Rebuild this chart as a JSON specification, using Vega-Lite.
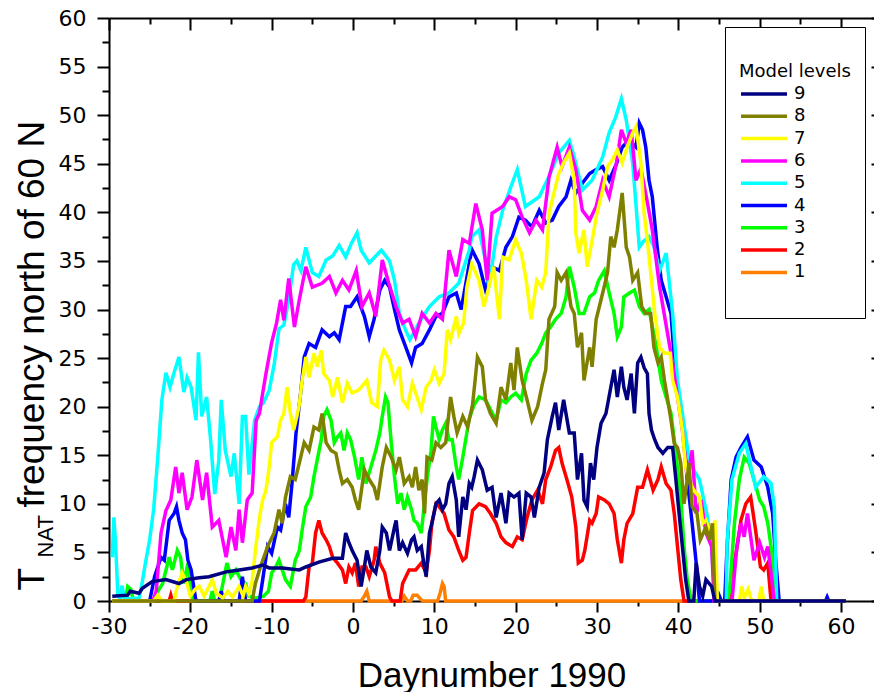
{
"$schema": "https://vega.github.io/schema/vega-lite/v6.json",
"width": 765, "height": 583,
"autosize": {"type": "none"},
"padding": {"left": 109, "top": 18, "right": 0, "bottom": 91},
"background": "white",
"config": {"view": {"stroke": null}, "axis": {"grid": false, "domainColor": "black", "tickColor": "black", "labelColor": "black", "titleColor": "black", "domainWidth": 2, "tickWidth": 2}},
"data": {"values": [
{"l":"1","d":-29.6,"v":0},{"l":"1","d":1.0,"v":0},{"l":"1","d":1.4,"v":0.5},{"l":"1","d":1.7,"v":1.0},{"l":"1","d":2.0,"v":0},{"l":"1","d":6.0,"v":0},{"l":"1","d":6.3,"v":0.5},{"l":"1","d":6.7,"v":0},{"l":"1","d":7.1,"v":0},{"l":"1","d":7.4,"v":0.6},{"l":"1","d":7.9,"v":0.6},{"l":"1","d":8.3,"v":0.2},{"l":"1","d":8.6,"v":0},{"l":"1","d":10.4,"v":0},{"l":"1","d":10.7,"v":0.8},{"l":"1","d":11.0,"v":1.8},{"l":"1","d":11.2,"v":1.5},{"l":"1","d":11.4,"v":0},{"l":"1","d":60.6,"v":0},
{"l":"2","d":-29.6,"v":0},{"l":"2","d":-22.6,"v":0},{"l":"2","d":-22.4,"v":0.6},{"l":"2","d":-22.2,"v":0},{"l":"2","d":-6.1,"v":0},{"l":"2","d":-5.8,"v":0.4},{"l":"2","d":-5.4,"v":3.5},{"l":"2","d":-5.0,"v":3.9},{"l":"2","d":-4.6,"v":7.0},{"l":"2","d":-4.2,"v":8.3},{"l":"2","d":-3.8,"v":7.0},{"l":"2","d":-3.3,"v":6.3},{"l":"2","d":-2.9,"v":5.6},{"l":"2","d":-2.5,"v":4.5},{"l":"2","d":-1.9,"v":3.9},{"l":"2","d":-1.3,"v":3.2},{"l":"2","d":-0.9,"v":1.8},{"l":"2","d":-0.5,"v":3.5},{"l":"2","d":-0.1,"v":2.9},{"l":"2","d":0.3,"v":3.9},{"l":"2","d":0.7,"v":1.5},{"l":"2","d":1.1,"v":3.5},{"l":"2","d":1.6,"v":3.5},{"l":"2","d":2.0,"v":2.5},{"l":"2","d":2.6,"v":4.2},{"l":"2","d":2.8,"v":5.6},{"l":"2","d":3.3,"v":3.9},{"l":"2","d":3.9,"v":2.9},{"l":"2","d":4.5,"v":0.4},{"l":"2","d":4.8,"v":0},{"l":"2","d":5.8,"v":0},{"l":"2","d":6.1,"v":1.8},{"l":"2","d":6.5,"v":2.5},{"l":"2","d":6.9,"v":3.2},{"l":"2","d":7.7,"v":3.2},{"l":"2","d":8.4,"v":3.9},{"l":"2","d":9.0,"v":2.9},{"l":"2","d":9.4,"v":5.2},{"l":"2","d":9.7,"v":8.0},{"l":"2","d":10.2,"v":10.0},{"l":"2","d":10.6,"v":9.7},{"l":"2","d":11.2,"v":9.0},{"l":"2","d":11.8,"v":7.3},{"l":"2","d":12.4,"v":6.6},{"l":"2","d":13.0,"v":5.2},{"l":"2","d":13.5,"v":4.2},{"l":"2","d":13.9,"v":4.5},{"l":"2","d":14.3,"v":7.0},{"l":"2","d":14.7,"v":9.3},{"l":"2","d":15.5,"v":10.0},{"l":"2","d":16.3,"v":9.7},{"l":"2","d":16.9,"v":9.0},{"l":"2","d":17.6,"v":8.0},{"l":"2","d":18.2,"v":6.6},{"l":"2","d":18.8,"v":6.0},{"l":"2","d":19.6,"v":5.6},{"l":"2","d":20.2,"v":6.6},{"l":"2","d":20.8,"v":6.3},{"l":"2","d":21.4,"v":8.6},{"l":"2","d":22.0,"v":10.4},{"l":"2","d":22.7,"v":11.4},{"l":"2","d":23.3,"v":10.0},{"l":"2","d":23.7,"v":12.5},{"l":"2","d":24.3,"v":13.8},{"l":"2","d":24.9,"v":15.5},{"l":"2","d":25.3,"v":15.8},{"l":"2","d":25.7,"v":14.2},{"l":"2","d":26.3,"v":12.5},{"l":"2","d":26.9,"v":10.7},{"l":"2","d":27.4,"v":7.6},{"l":"2","d":27.7,"v":3.9},{"l":"2","d":28.2,"v":4.2},{"l":"2","d":28.5,"v":5.2},{"l":"2","d":29.1,"v":8.3},{"l":"2","d":29.4,"v":8.0},{"l":"2","d":29.9,"v":9.0},{"l":"2","d":30.2,"v":10.7},{"l":"2","d":30.9,"v":10.4},{"l":"2","d":31.5,"v":10.0},{"l":"2","d":32.1,"v":9.0},{"l":"2","d":32.5,"v":6.3},{"l":"2","d":33.0,"v":3.9},{"l":"2","d":33.3,"v":6.3},{"l":"2","d":33.7,"v":8.0},{"l":"2","d":34.4,"v":9.0},{"l":"2","d":35.0,"v":11.7},{"l":"2","d":35.6,"v":11.7},{"l":"2","d":36.2,"v":13.5},{"l":"2","d":36.9,"v":11.4},{"l":"2","d":37.5,"v":12.5},{"l":"2","d":37.9,"v":13.8},{"l":"2","d":38.5,"v":12.1},{"l":"2","d":39.1,"v":11.4},{"l":"2","d":39.5,"v":9.0},{"l":"2","d":39.9,"v":5.6},{"l":"2","d":40.3,"v":2.2},{"l":"2","d":40.7,"v":0},{"l":"2","d":46.2,"v":0},{"l":"2","d":46.5,"v":2.5},{"l":"2","d":47.1,"v":4.9},{"l":"2","d":47.7,"v":8.3},{"l":"2","d":48.3,"v":10.0},{"l":"2","d":48.9,"v":10.7},{"l":"2","d":49.5,"v":7.3},{"l":"2","d":50.1,"v":3.5},{"l":"2","d":50.5,"v":3.2},{"l":"2","d":51.0,"v":3.9},{"l":"2","d":51.4,"v":0},{"l":"2","d":60.6,"v":0},
{"l":"3","d":-29.6,"v":0},{"l":"3","d":-28.0,"v":0},{"l":"3","d":-27.7,"v":1.5},{"l":"3","d":-27.3,"v":1.2},{"l":"3","d":-27.0,"v":0},{"l":"3","d":-24.5,"v":0},{"l":"3","d":-24.0,"v":1.0},{"l":"3","d":-23.4,"v":1.8},{"l":"3","d":-22.6,"v":4.5},{"l":"3","d":-22.2,"v":3.2},{"l":"3","d":-21.6,"v":5.2},{"l":"3","d":-21.2,"v":4.5},{"l":"3","d":-20.8,"v":1.8},{"l":"3","d":-20.3,"v":3.9},{"l":"3","d":-19.9,"v":0.6},{"l":"3","d":-19.5,"v":0},{"l":"3","d":-17.6,"v":0},{"l":"3","d":-17.3,"v":1.0},{"l":"3","d":-17.0,"v":0},{"l":"3","d":-16.4,"v":0},{"l":"3","d":-16.0,"v":1.8},{"l":"3","d":-15.5,"v":3.9},{"l":"3","d":-15.0,"v":2.5},{"l":"3","d":-14.4,"v":3.2},{"l":"3","d":-13.8,"v":2.2},{"l":"3","d":-13.2,"v":1.8},{"l":"3","d":-12.8,"v":0.5},{"l":"3","d":-12.0,"v":0.3},{"l":"3","d":-11.0,"v":0.5},{"l":"3","d":-10.4,"v":1.0},{"l":"3","d":-10.0,"v":2.9},{"l":"3","d":-9.5,"v":3.5},{"l":"3","d":-9.1,"v":4.2},{"l":"3","d":-8.7,"v":3.2},{"l":"3","d":-8.3,"v":2.2},{"l":"3","d":-7.7,"v":1.5},{"l":"3","d":-7.1,"v":4.2},{"l":"3","d":-6.6,"v":5.2},{"l":"3","d":-6.2,"v":7.6},{"l":"3","d":-5.8,"v":9.7},{"l":"3","d":-5.2,"v":10.7},{"l":"3","d":-4.8,"v":12.8},{"l":"3","d":-4.4,"v":14.5},{"l":"3","d":-3.9,"v":16.6},{"l":"3","d":-3.6,"v":19.0},{"l":"3","d":-3.2,"v":19.7},{"l":"3","d":-2.7,"v":18.6},{"l":"3","d":-2.3,"v":16.3},{"l":"3","d":-1.9,"v":16.9},{"l":"3","d":-1.5,"v":17.3},{"l":"3","d":-1.1,"v":15.5},{"l":"3","d":-0.7,"v":17.3},{"l":"3","d":-0.3,"v":16.6},{"l":"3","d":0.2,"v":14.8},{"l":"3","d":0.7,"v":12.5},{"l":"3","d":1.1,"v":14.8},{"l":"3","d":1.6,"v":12.1},{"l":"3","d":2.2,"v":13.8},{"l":"3","d":2.8,"v":15.5},{"l":"3","d":3.3,"v":17.3},{"l":"3","d":3.6,"v":19.0},{"l":"3","d":4.0,"v":21.0},{"l":"3","d":4.3,"v":20.4},{"l":"3","d":4.7,"v":16.3},{"l":"3","d":5.1,"v":12.8},{"l":"3","d":5.5,"v":10.0},{"l":"3","d":5.9,"v":11.1},{"l":"3","d":6.3,"v":9.4},{"l":"3","d":6.7,"v":10.7},{"l":"3","d":7.2,"v":9.4},{"l":"3","d":7.5,"v":8.3},{"l":"3","d":7.9,"v":8.0},{"l":"3","d":8.4,"v":7.0},{"l":"3","d":8.7,"v":9.4},{"l":"3","d":9.1,"v":12.5},{"l":"3","d":9.6,"v":15.5},{"l":"3","d":9.9,"v":19.0},{"l":"3","d":10.2,"v":17.9},{"l":"3","d":10.6,"v":16.6},{"l":"3","d":11.0,"v":17.6},{"l":"3","d":11.4,"v":18.3},{"l":"3","d":11.8,"v":16.6},{"l":"3","d":12.2,"v":16.6},{"l":"3","d":12.7,"v":13.8},{"l":"3","d":13.0,"v":12.5},{"l":"3","d":13.5,"v":14.8},{"l":"3","d":13.9,"v":16.8},{"l":"3","d":14.3,"v":18.8},{"l":"3","d":14.9,"v":20.2},{"l":"3","d":15.5,"v":21.0},{"l":"3","d":16.3,"v":20.7},{"l":"3","d":16.9,"v":19.7},{"l":"3","d":17.6,"v":18.6},{"l":"3","d":18.2,"v":20.7},{"l":"3","d":18.8,"v":20.4},{"l":"3","d":19.4,"v":21.0},{"l":"3","d":20.0,"v":21.4},{"l":"3","d":20.7,"v":20.7},{"l":"3","d":21.3,"v":23.4},{"l":"3","d":21.9,"v":24.8},{"l":"3","d":22.6,"v":25.5},{"l":"3","d":23.2,"v":26.5},{"l":"3","d":23.7,"v":27.6},{"l":"3","d":24.3,"v":28.2},{"l":"3","d":24.9,"v":29.0},{"l":"3","d":25.6,"v":29.6},{"l":"3","d":26.2,"v":31.3},{"l":"3","d":26.6,"v":34.4},{"l":"3","d":27.2,"v":32.3},{"l":"3","d":27.8,"v":29.6},{"l":"3","d":28.4,"v":29.6},{"l":"3","d":29.1,"v":31.3},{"l":"3","d":29.7,"v":31.7},{"l":"3","d":30.2,"v":33.0},{"l":"3","d":30.9,"v":34.0},{"l":"3","d":31.5,"v":31.7},{"l":"3","d":32.1,"v":29.6},{"l":"3","d":32.5,"v":27.2},{"l":"3","d":33.0,"v":28.2},{"l":"3","d":33.3,"v":31.3},{"l":"3","d":34.0,"v":31.7},{"l":"3","d":34.6,"v":32.0},{"l":"3","d":35.2,"v":30.3},{"l":"3","d":35.8,"v":29.6},{"l":"3","d":36.4,"v":30.0},{"l":"3","d":37.3,"v":26.1},{"l":"3","d":37.9,"v":22.7},{"l":"3","d":38.5,"v":21.0},{"l":"3","d":39.1,"v":19.3},{"l":"3","d":39.7,"v":15.2},{"l":"3","d":40.3,"v":10.7},{"l":"3","d":40.7,"v":5.6},{"l":"3","d":41.1,"v":2.2},{"l":"3","d":41.6,"v":0},{"l":"3","d":46.0,"v":0},{"l":"3","d":46.3,"v":1.0},{"l":"3","d":46.9,"v":8.0},{"l":"3","d":47.5,"v":12.5},{"l":"3","d":48.1,"v":14.8},{"l":"3","d":48.7,"v":14.2},{"l":"3","d":49.3,"v":12.5},{"l":"3","d":50.0,"v":10.4},{"l":"3","d":50.5,"v":9.7},{"l":"3","d":51.0,"v":8.0},{"l":"3","d":51.4,"v":5.6},{"l":"3","d":51.8,"v":2.2},{"l":"3","d":52.0,"v":0},{"l":"3","d":60.6,"v":0},
{"l":"4","d":-29.6,"v":0},{"l":"4","d":-25.0,"v":0},{"l":"4","d":-24.4,"v":2.5},{"l":"4","d":-23.6,"v":4.5},{"l":"4","d":-23.2,"v":4.2},{"l":"4","d":-22.6,"v":8.3},{"l":"4","d":-22.0,"v":9.0},{"l":"4","d":-21.7,"v":9.7},{"l":"4","d":-21.4,"v":8.3},{"l":"4","d":-21.0,"v":7.0},{"l":"4","d":-20.6,"v":6.3},{"l":"4","d":-20.3,"v":4.2},{"l":"4","d":-19.9,"v":3.2},{"l":"4","d":-19.5,"v":1.0},{"l":"4","d":-19.3,"v":0},{"l":"4","d":-16.5,"v":0},{"l":"4","d":-16.2,"v":1.0},{"l":"4","d":-15.9,"v":0},{"l":"4","d":-14.0,"v":0},{"l":"4","d":-13.6,"v":2.5},{"l":"4","d":-13.2,"v":0},{"l":"4","d":-11.5,"v":0},{"l":"4","d":-11.1,"v":2.2},{"l":"4","d":-10.5,"v":5.6},{"l":"4","d":-10.0,"v":4.9},{"l":"4","d":-9.3,"v":7.6},{"l":"4","d":-8.9,"v":7.3},{"l":"4","d":-8.3,"v":10.0},{"l":"4","d":-7.9,"v":8.6},{"l":"4","d":-7.5,"v":12.1},{"l":"4","d":-7.0,"v":17.3},{"l":"4","d":-6.4,"v":21.7},{"l":"4","d":-6.0,"v":25.1},{"l":"4","d":-5.4,"v":26.5},{"l":"4","d":-4.6,"v":26.1},{"l":"4","d":-3.8,"v":27.9},{"l":"4","d":-2.9,"v":27.2},{"l":"4","d":-2.3,"v":27.6},{"l":"4","d":-1.7,"v":26.9},{"l":"4","d":-0.9,"v":30.3},{"l":"4","d":-0.3,"v":30.3},{"l":"4","d":0.5,"v":31.3},{"l":"4","d":1.4,"v":29.3},{"l":"4","d":2.0,"v":27.2},{"l":"4","d":2.6,"v":29.0},{"l":"4","d":3.3,"v":32.0},{"l":"4","d":3.9,"v":33.0},{"l":"4","d":4.5,"v":32.3},{"l":"4","d":5.1,"v":30.0},{"l":"4","d":5.7,"v":27.9},{"l":"4","d":6.5,"v":26.1},{"l":"4","d":7.2,"v":24.5},{"l":"4","d":7.7,"v":26.1},{"l":"4","d":8.5,"v":26.5},{"l":"4","d":9.4,"v":27.9},{"l":"4","d":10.2,"v":29.3},{"l":"4","d":11.0,"v":29.6},{"l":"4","d":11.8,"v":31.3},{"l":"4","d":12.7,"v":31.7},{"l":"4","d":13.3,"v":30.0},{"l":"4","d":13.9,"v":32.8},{"l":"4","d":14.6,"v":36.2},{"l":"4","d":15.5,"v":34.7},{"l":"4","d":16.3,"v":32.0},{"l":"4","d":17.1,"v":34.4},{"l":"4","d":18.0,"v":34.0},{"l":"4","d":18.8,"v":36.4},{"l":"4","d":19.6,"v":37.5},{"l":"4","d":20.4,"v":39.5},{"l":"4","d":21.2,"v":39.2},{"l":"4","d":22.0,"v":38.5},{"l":"4","d":22.9,"v":40.2},{"l":"4","d":23.7,"v":38.9},{"l":"4","d":24.5,"v":39.2},{"l":"4","d":25.3,"v":40.6},{"l":"4","d":26.2,"v":41.6},{"l":"4","d":26.8,"v":43.3},{"l":"4","d":27.4,"v":42.0},{"l":"4","d":28.2,"v":43.0},{"l":"4","d":29.1,"v":44.0},{"l":"4","d":29.9,"v":44.4},{"l":"4","d":30.7,"v":44.7},{"l":"4","d":31.5,"v":43.3},{"l":"4","d":32.4,"v":45.0},{"l":"4","d":33.1,"v":46.7},{"l":"4","d":33.9,"v":47.4},{"l":"4","d":34.8,"v":46.7},{"l":"4","d":35.2,"v":49.2},{"l":"4","d":35.6,"v":48.5},{"l":"4","d":36.0,"v":46.7},{"l":"4","d":36.4,"v":43.3},{"l":"4","d":36.8,"v":41.6},{"l":"4","d":37.4,"v":36.4},{"l":"4","d":37.9,"v":33.0},{"l":"4","d":38.5,"v":31.3},{"l":"4","d":39.1,"v":29.6},{"l":"4","d":39.7,"v":22.7},{"l":"4","d":40.3,"v":19.3},{"l":"4","d":40.7,"v":17.6},{"l":"4","d":41.1,"v":12.5},{"l":"4","d":41.7,"v":8.0},{"l":"4","d":42.2,"v":3.9},{"l":"4","d":42.6,"v":0},{"l":"4","d":44.8,"v":0},{"l":"4","d":45.0,"v":0.6},{"l":"4","d":45.3,"v":0},{"l":"4","d":45.7,"v":0},{"l":"4","d":46.0,"v":5.6},{"l":"4","d":46.5,"v":12.5},{"l":"4","d":47.1,"v":14.8},{"l":"4","d":47.7,"v":15.8},{"l":"4","d":48.5,"v":16.9},{"l":"4","d":49.3,"v":14.5},{"l":"4","d":50.2,"v":13.8},{"l":"4","d":51.0,"v":11.7},{"l":"4","d":51.6,"v":9.0},{"l":"4","d":52.0,"v":3.9},{"l":"4","d":52.4,"v":0},{"l":"4","d":58.1,"v":0},{"l":"4","d":58.3,"v":0.4},{"l":"4","d":58.5,"v":0},{"l":"4","d":60.6,"v":0},
{"l":"5","d":-29.6,"v":4.5},{"l":"5","d":-29.4,"v":8.6},{"l":"5","d":-29.2,"v":6.0},{"l":"5","d":-28.9,"v":0.5},{"l":"5","d":-28.6,"v":0.3},{"l":"5","d":-28.4,"v":1.6},{"l":"5","d":-28.1,"v":0.2},{"l":"5","d":-26.3,"v":0.3},{"l":"5","d":-25.9,"v":2.0},{"l":"5","d":-25.5,"v":4.0},{"l":"5","d":-25.0,"v":6.3},{"l":"5","d":-24.5,"v":9.5},{"l":"5","d":-24.0,"v":14.8},{"l":"5","d":-23.5,"v":20.7},{"l":"5","d":-23.0,"v":23.5},{"l":"5","d":-22.5,"v":22.0},{"l":"5","d":-22.0,"v":23.5},{"l":"5","d":-21.4,"v":25.1},{"l":"5","d":-20.8,"v":21.5},{"l":"5","d":-20.4,"v":23.0},{"l":"5","d":-19.9,"v":22.0},{"l":"5","d":-19.3,"v":18.6},{"l":"5","d":-19.0,"v":25.6},{"l":"5","d":-18.6,"v":19.0},{"l":"5","d":-18.0,"v":21.0},{"l":"5","d":-17.5,"v":16.5},{"l":"5","d":-17.0,"v":11.0},{"l":"5","d":-16.5,"v":14.5},{"l":"5","d":-16.2,"v":20.7},{"l":"5","d":-15.7,"v":15.5},{"l":"5","d":-15.0,"v":12.8},{"l":"5","d":-14.6,"v":15.2},{"l":"5","d":-14.0,"v":10.0},{"l":"5","d":-13.6,"v":19.0},{"l":"5","d":-13.2,"v":19.0},{"l":"5","d":-12.8,"v":13.0},{"l":"5","d":-12.1,"v":18.6},{"l":"5","d":-11.5,"v":20.0},{"l":"5","d":-11.0,"v":20.4},{"l":"5","d":-10.3,"v":21.7},{"l":"5","d":-9.7,"v":24.3},{"l":"5","d":-9.1,"v":28.0},{"l":"5","d":-8.5,"v":28.4},{"l":"5","d":-7.9,"v":31.0},{"l":"5","d":-7.3,"v":34.6},{"l":"5","d":-6.9,"v":35.0},{"l":"5","d":-6.4,"v":34.0},{"l":"5","d":-5.8,"v":36.4},{"l":"5","d":-5.0,"v":33.8},{"l":"5","d":-4.2,"v":33.4},{"l":"5","d":-3.3,"v":35.1},{"l":"5","d":-2.5,"v":35.5},{"l":"5","d":-1.7,"v":36.6},{"l":"5","d":-0.9,"v":35.4},{"l":"5","d":-0.2,"v":36.8},{"l":"5","d":0.5,"v":37.9},{"l":"5","d":1.0,"v":36.1},{"l":"5","d":2.0,"v":34.8},{"l":"5","d":2.8,"v":35.5},{"l":"5","d":3.5,"v":36.1},{"l":"5","d":4.5,"v":35.0},{"l":"5","d":5.1,"v":33.0},{"l":"5","d":5.7,"v":29.6},{"l":"5","d":6.4,"v":28.0},{"l":"5","d":7.0,"v":26.9},{"l":"5","d":8.1,"v":28.6},{"l":"5","d":9.4,"v":30.3},{"l":"5","d":10.6,"v":31.3},{"l":"5","d":11.8,"v":31.7},{"l":"5","d":13.0,"v":32.7},{"l":"5","d":14.3,"v":36.1},{"l":"5","d":14.6,"v":37.5},{"l":"5","d":15.5,"v":38.2},{"l":"5","d":16.3,"v":35.0},{"l":"5","d":16.7,"v":32.3},{"l":"5","d":17.6,"v":37.4},{"l":"5","d":18.4,"v":40.2},{"l":"5","d":19.4,"v":42.6},{"l":"5","d":20.2,"v":44.4},{"l":"5","d":21.2,"v":40.6},{"l":"5","d":22.9,"v":41.6},{"l":"5","d":24.1,"v":43.7},{"l":"5","d":25.3,"v":46.1},{"l":"5","d":26.6,"v":47.4},{"l":"5","d":27.2,"v":45.7},{"l":"5","d":28.2,"v":42.3},{"l":"5","d":29.4,"v":43.3},{"l":"5","d":30.7,"v":45.7},{"l":"5","d":31.5,"v":48.2},{"l":"5","d":32.3,"v":49.8},{"l":"5","d":33.0,"v":51.7},{"l":"5","d":33.6,"v":49.5},{"l":"5","d":34.4,"v":45.0},{"l":"5","d":35.2,"v":36.4},{"l":"5","d":35.7,"v":37.0},{"l":"5","d":36.4,"v":37.5},{"l":"5","d":37.0,"v":36.5},{"l":"5","d":37.7,"v":34.0},{"l":"5","d":38.5,"v":35.8},{"l":"5","d":39.3,"v":29.6},{"l":"5","d":39.9,"v":22.7},{"l":"5","d":40.5,"v":19.3},{"l":"5","d":41.4,"v":14.2},{"l":"5","d":42.6,"v":12.5},{"l":"5","d":43.5,"v":9.0},{"l":"5","d":44.1,"v":5.6},{"l":"5","d":44.5,"v":0},{"l":"5","d":45.9,"v":0},{"l":"5","d":46.0,"v":6.0},{"l":"5","d":46.6,"v":12.5},{"l":"5","d":47.5,"v":15.2},{"l":"5","d":48.3,"v":16.2},{"l":"5","d":49.5,"v":11.7},{"l":"5","d":50.5,"v":12.8},{"l":"5","d":51.4,"v":12.1},{"l":"5","d":51.8,"v":9.7},{"l":"5","d":52.1,"v":0},{"l":"5","d":60.6,"v":0},
{"l":"6","d":-29.6,"v":0},{"l":"6","d":-24.6,"v":0},{"l":"6","d":-24.2,"v":1.0},{"l":"6","d":-23.6,"v":7.0},{"l":"6","d":-23.0,"v":9.3},{"l":"6","d":-22.4,"v":10.4},{"l":"6","d":-21.8,"v":13.8},{"l":"6","d":-21.4,"v":11.1},{"l":"6","d":-21.0,"v":13.2},{"l":"6","d":-20.4,"v":9.4},{"l":"6","d":-19.8,"v":10.7},{"l":"6","d":-19.2,"v":14.5},{"l":"6","d":-18.5,"v":10.4},{"l":"6","d":-18.0,"v":13.2},{"l":"6","d":-17.3,"v":7.6},{"l":"6","d":-16.5,"v":8.3},{"l":"6","d":-15.6,"v":4.5},{"l":"6","d":-15.0,"v":7.6},{"l":"6","d":-14.4,"v":5.2},{"l":"6","d":-14.0,"v":9.4},{"l":"6","d":-13.6,"v":6.0},{"l":"6","d":-13.0,"v":10.4},{"l":"6","d":-12.4,"v":11.1},{"l":"6","d":-11.9,"v":18.6},{"l":"6","d":-11.5,"v":19.3},{"l":"6","d":-11.1,"v":21.4},{"l":"6","d":-10.7,"v":23.4},{"l":"6","d":-10.0,"v":26.6},{"l":"6","d":-9.4,"v":28.6},{"l":"6","d":-8.9,"v":31.0},{"l":"6","d":-8.5,"v":28.9},{"l":"6","d":-7.9,"v":33.2},{"l":"6","d":-7.2,"v":28.2},{"l":"6","d":-6.6,"v":31.0},{"l":"6","d":-5.8,"v":34.4},{"l":"6","d":-5.0,"v":32.3},{"l":"6","d":-3.8,"v":32.7},{"l":"6","d":-2.9,"v":33.4},{"l":"6","d":-2.1,"v":31.7},{"l":"6","d":-1.3,"v":33.0},{"l":"6","d":-0.5,"v":32.0},{"l":"6","d":0.4,"v":34.0},{"l":"6","d":1.1,"v":30.3},{"l":"6","d":2.0,"v":31.7},{"l":"6","d":2.8,"v":29.3},{"l":"6","d":3.6,"v":35.1},{"l":"6","d":4.4,"v":32.7},{"l":"6","d":5.3,"v":30.3},{"l":"6","d":6.1,"v":28.6},{"l":"6","d":6.9,"v":29.0},{"l":"6","d":7.7,"v":27.2},{"l":"6","d":8.5,"v":29.6},{"l":"6","d":9.4,"v":28.6},{"l":"6","d":10.2,"v":29.6},{"l":"6","d":11.0,"v":29.0},{"l":"6","d":11.8,"v":36.1},{"l":"6","d":12.7,"v":33.4},{"l":"6","d":13.5,"v":37.2},{"l":"6","d":14.3,"v":36.8},{"l":"6","d":15.1,"v":40.9},{"l":"6","d":15.9,"v":38.2},{"l":"6","d":16.5,"v":33.0},{"l":"6","d":17.1,"v":39.9},{"l":"6","d":18.4,"v":40.6},{"l":"6","d":19.2,"v":41.6},{"l":"6","d":20.0,"v":41.3},{"l":"6","d":20.8,"v":39.5},{"l":"6","d":21.7,"v":37.9},{"l":"6","d":22.5,"v":39.2},{"l":"6","d":23.3,"v":38.2},{"l":"6","d":24.1,"v":43.6},{"l":"6","d":25.1,"v":46.7},{"l":"6","d":25.7,"v":44.7},{"l":"6","d":26.6,"v":46.7},{"l":"6","d":27.4,"v":44.4},{"l":"6","d":28.2,"v":40.2},{"l":"6","d":29.1,"v":39.2},{"l":"6","d":29.9,"v":40.6},{"l":"6","d":30.7,"v":43.3},{"l":"6","d":31.5,"v":41.6},{"l":"6","d":32.4,"v":45.1},{"l":"6","d":33.0,"v":48.5},{"l":"6","d":33.6,"v":47.1},{"l":"6","d":34.2,"v":48.5},{"l":"6","d":34.8,"v":43.3},{"l":"6","d":35.4,"v":44.5},{"l":"6","d":36.2,"v":41.0},{"l":"6","d":36.8,"v":38.2},{"l":"6","d":37.7,"v":32.3},{"l":"6","d":38.6,"v":27.9},{"l":"6","d":39.3,"v":24.5},{"l":"6","d":39.9,"v":21.0},{"l":"6","d":40.5,"v":17.6},{"l":"6","d":41.1,"v":12.5},{"l":"6","d":41.7,"v":15.5},{"l":"6","d":42.2,"v":9.0},{"l":"6","d":42.8,"v":10.4},{"l":"6","d":43.4,"v":7.0},{"l":"6","d":44.1,"v":5.6},{"l":"6","d":44.4,"v":0},{"l":"6","d":46.6,"v":0},{"l":"6","d":47.2,"v":5.6},{"l":"6","d":47.7,"v":8.0},{"l":"6","d":48.1,"v":6.6},{"l":"6","d":48.5,"v":9.0},{"l":"6","d":48.9,"v":6.6},{"l":"6","d":49.3,"v":4.2},{"l":"6","d":50.0,"v":6.0},{"l":"6","d":50.6,"v":4.5},{"l":"6","d":51.0,"v":5.6},{"l":"6","d":51.4,"v":2.9},{"l":"6","d":51.8,"v":0},{"l":"6","d":60.6,"v":0},
{"l":"7","d":-29.6,"v":0},{"l":"7","d":-24.5,"v":0},{"l":"7","d":-24.0,"v":0.6},{"l":"7","d":-23.5,"v":0},{"l":"7","d":-22.0,"v":0},{"l":"7","d":-21.6,"v":1.5},{"l":"7","d":-21.0,"v":2.9},{"l":"7","d":-20.4,"v":1.8},{"l":"7","d":-20.0,"v":0.5},{"l":"7","d":-19.4,"v":1.2},{"l":"7","d":-18.9,"v":1.5},{"l":"7","d":-18.3,"v":0.5},{"l":"7","d":-17.7,"v":1.5},{"l":"7","d":-17.3,"v":2.2},{"l":"7","d":-16.8,"v":0.8},{"l":"7","d":-16.0,"v":0.3},{"l":"7","d":-15.4,"v":1.0},{"l":"7","d":-14.8,"v":0.4},{"l":"7","d":-14.0,"v":1.5},{"l":"7","d":-13.5,"v":0.5},{"l":"7","d":-13.2,"v":1.5},{"l":"7","d":-12.8,"v":0.8},{"l":"7","d":-12.4,"v":2.0},{"l":"7","d":-12.0,"v":5.2},{"l":"7","d":-11.5,"v":8.6},{"l":"7","d":-11.1,"v":10.4},{"l":"7","d":-10.7,"v":11.4},{"l":"7","d":-10.3,"v":13.8},{"l":"7","d":-10.0,"v":16.3},{"l":"7","d":-9.3,"v":16.9},{"l":"7","d":-8.9,"v":18.6},{"l":"7","d":-8.5,"v":19.3},{"l":"7","d":-8.1,"v":22.0},{"l":"7","d":-7.7,"v":19.3},{"l":"7","d":-7.3,"v":17.6},{"l":"7","d":-6.9,"v":19.0},{"l":"7","d":-6.6,"v":20.2},{"l":"7","d":-6.3,"v":22.4},{"l":"7","d":-5.8,"v":25.1},{"l":"7","d":-5.4,"v":23.0},{"l":"7","d":-4.8,"v":25.5},{"l":"7","d":-4.4,"v":24.1},{"l":"7","d":-3.9,"v":25.8},{"l":"7","d":-3.6,"v":23.4},{"l":"7","d":-2.9,"v":22.7},{"l":"7","d":-2.5,"v":21.0},{"l":"7","d":-1.9,"v":23.0},{"l":"7","d":-1.3,"v":20.4},{"l":"7","d":-0.7,"v":22.4},{"l":"7","d":-0.1,"v":21.4},{"l":"7","d":0.7,"v":21.7},{"l":"7","d":1.4,"v":22.4},{"l":"7","d":1.7,"v":22.7},{"l":"7","d":2.3,"v":20.4},{"l":"7","d":3.0,"v":20.0},{"l":"7","d":3.4,"v":24.8},{"l":"7","d":3.8,"v":25.8},{"l":"7","d":4.5,"v":24.8},{"l":"7","d":5.1,"v":22.7},{"l":"7","d":5.7,"v":24.1},{"l":"7","d":6.1,"v":20.7},{"l":"7","d":6.7,"v":20.0},{"l":"7","d":7.3,"v":22.4},{"l":"7","d":7.7,"v":21.4},{"l":"7","d":8.4,"v":19.7},{"l":"7","d":9.0,"v":22.0},{"l":"7","d":9.6,"v":22.7},{"l":"7","d":10.0,"v":23.8},{"l":"7","d":10.6,"v":22.4},{"l":"7","d":11.2,"v":23.4},{"l":"7","d":11.6,"v":27.9},{"l":"7","d":12.0,"v":26.9},{"l":"7","d":12.7,"v":29.3},{"l":"7","d":13.0,"v":27.5},{"l":"7","d":13.6,"v":28.6},{"l":"7","d":14.0,"v":32.3},{"l":"7","d":14.6,"v":34.7},{"l":"7","d":15.5,"v":33.0},{"l":"7","d":16.1,"v":30.3},{"l":"7","d":16.7,"v":32.3},{"l":"7","d":17.3,"v":34.4},{"l":"7","d":18.0,"v":29.0},{"l":"7","d":18.4,"v":35.4},{"l":"7","d":19.2,"v":35.1},{"l":"7","d":20.0,"v":37.2},{"l":"7","d":20.7,"v":35.8},{"l":"7","d":21.3,"v":33.0},{"l":"7","d":21.9,"v":29.0},{"l":"7","d":22.6,"v":33.0},{"l":"7","d":23.2,"v":32.3},{"l":"7","d":23.7,"v":33.8},{"l":"7","d":24.1,"v":39.9},{"l":"7","d":24.8,"v":42.3},{"l":"7","d":25.3,"v":44.0},{"l":"7","d":25.9,"v":45.1},{"l":"7","d":26.6,"v":46.1},{"l":"7","d":27.2,"v":43.3},{"l":"7","d":27.4,"v":37.9},{"l":"7","d":27.8,"v":35.8},{"l":"7","d":28.4,"v":38.2},{"l":"7","d":28.8,"v":34.4},{"l":"7","d":29.4,"v":37.1},{"l":"7","d":30.0,"v":39.9},{"l":"7","d":30.7,"v":42.3},{"l":"7","d":31.3,"v":44.7},{"l":"7","d":31.9,"v":45.4},{"l":"7","d":32.5,"v":46.4},{"l":"7","d":33.1,"v":45.1},{"l":"7","d":33.7,"v":46.7},{"l":"7","d":34.4,"v":48.2},{"l":"7","d":34.8,"v":48.8},{"l":"7","d":35.4,"v":45.1},{"l":"7","d":35.8,"v":39.9},{"l":"7","d":36.2,"v":37.1},{"l":"7","d":36.7,"v":33.0},{"l":"7","d":37.1,"v":29.6},{"l":"7","d":37.7,"v":26.1},{"l":"7","d":38.3,"v":25.5},{"l":"7","d":39.0,"v":25.5},{"l":"7","d":39.3,"v":22.7},{"l":"7","d":39.9,"v":21.0},{"l":"7","d":40.5,"v":17.6},{"l":"7","d":40.9,"v":13.8},{"l":"7","d":41.3,"v":12.5},{"l":"7","d":41.9,"v":11.4},{"l":"7","d":42.6,"v":10.7},{"l":"7","d":43.0,"v":8.0},{"l":"7","d":43.4,"v":8.3},{"l":"7","d":44.1,"v":6.6},{"l":"7","d":44.5,"v":8.3},{"l":"7","d":44.8,"v":0},{"l":"7","d":47.5,"v":0},{"l":"7","d":47.8,"v":1.5},{"l":"7","d":48.1,"v":0.3},{"l":"7","d":48.6,"v":1.2},{"l":"7","d":49.0,"v":0},{"l":"7","d":49.9,"v":0},{"l":"7","d":50.2,"v":1.5},{"l":"7","d":50.5,"v":0},{"l":"7","d":60.6,"v":0},
{"l":"8","d":-29.6,"v":0},{"l":"8","d":-12.4,"v":0},{"l":"8","d":-12.0,"v":1.8},{"l":"8","d":-11.5,"v":3.2},{"l":"8","d":-11.1,"v":4.2},{"l":"8","d":-10.5,"v":5.6},{"l":"8","d":-10.1,"v":6.3},{"l":"8","d":-9.7,"v":7.0},{"l":"8","d":-9.1,"v":9.4},{"l":"8","d":-8.7,"v":8.0},{"l":"8","d":-8.3,"v":10.7},{"l":"8","d":-7.7,"v":12.8},{"l":"8","d":-7.1,"v":12.5},{"l":"8","d":-6.6,"v":14.2},{"l":"8","d":-6.0,"v":16.3},{"l":"8","d":-5.4,"v":15.5},{"l":"8","d":-4.8,"v":17.9},{"l":"8","d":-4.2,"v":17.6},{"l":"8","d":-3.8,"v":19.3},{"l":"8","d":-3.3,"v":16.3},{"l":"8","d":-2.7,"v":15.5},{"l":"8","d":-2.1,"v":15.2},{"l":"8","d":-1.7,"v":13.5},{"l":"8","d":-1.3,"v":12.1},{"l":"8","d":-0.7,"v":12.5},{"l":"8","d":-0.1,"v":11.7},{"l":"8","d":0.3,"v":10.4},{"l":"8","d":0.7,"v":9.4},{"l":"8","d":1.4,"v":13.5},{"l":"8","d":2.0,"v":12.5},{"l":"8","d":2.6,"v":11.7},{"l":"8","d":3.0,"v":10.4},{"l":"8","d":3.6,"v":13.8},{"l":"8","d":4.1,"v":15.8},{"l":"8","d":4.7,"v":14.8},{"l":"8","d":5.3,"v":13.5},{"l":"8","d":5.7,"v":14.8},{"l":"8","d":6.3,"v":12.1},{"l":"8","d":6.9,"v":12.8},{"l":"8","d":7.3,"v":11.7},{"l":"8","d":7.7,"v":13.8},{"l":"8","d":8.1,"v":11.4},{"l":"8","d":8.5,"v":12.5},{"l":"8","d":8.8,"v":9.0},{"l":"8","d":9.1,"v":14.8},{"l":"8","d":9.7,"v":14.5},{"l":"8","d":10.2,"v":16.3},{"l":"8","d":10.8,"v":15.8},{"l":"8","d":11.4,"v":16.3},{"l":"8","d":12.0,"v":21.0},{"l":"8","d":12.4,"v":19.0},{"l":"8","d":12.8,"v":17.3},{"l":"8","d":13.5,"v":19.0},{"l":"8","d":14.1,"v":17.9},{"l":"8","d":14.7,"v":20.2},{"l":"8","d":15.0,"v":22.6},{"l":"8","d":15.3,"v":25.1},{"l":"8","d":15.9,"v":24.1},{"l":"8","d":16.3,"v":20.7},{"l":"8","d":16.9,"v":19.3},{"l":"8","d":17.6,"v":18.3},{"l":"8","d":18.2,"v":22.0},{"l":"8","d":18.8,"v":20.7},{"l":"8","d":19.4,"v":24.5},{"l":"8","d":19.8,"v":21.7},{"l":"8","d":20.2,"v":26.1},{"l":"8","d":20.8,"v":22.7},{"l":"8","d":21.4,"v":20.7},{"l":"8","d":22.0,"v":18.6},{"l":"8","d":22.7,"v":20.0},{"l":"8","d":23.3,"v":22.4},{"l":"8","d":23.7,"v":23.8},{"l":"8","d":24.1,"v":29.0},{"l":"8","d":24.8,"v":30.3},{"l":"8","d":25.1,"v":33.8},{"l":"8","d":25.6,"v":33.0},{"l":"8","d":26.2,"v":33.8},{"l":"8","d":26.8,"v":30.3},{"l":"8","d":27.2,"v":29.6},{"l":"8","d":27.6,"v":26.1},{"l":"8","d":28.1,"v":27.6},{"l":"8","d":28.4,"v":22.7},{"l":"8","d":29.1,"v":26.1},{"l":"8","d":29.4,"v":24.1},{"l":"8","d":29.9,"v":29.0},{"l":"8","d":30.2,"v":30.0},{"l":"8","d":30.7,"v":31.7},{"l":"8","d":31.3,"v":33.8},{"l":"8","d":31.7,"v":37.5},{"l":"8","d":32.1,"v":36.4},{"l":"8","d":32.5,"v":38.2},{"l":"8","d":33.1,"v":42.0},{"l":"8","d":33.6,"v":36.4},{"l":"8","d":34.0,"v":35.4},{"l":"8","d":34.4,"v":33.0},{"l":"8","d":35.0,"v":33.8},{"l":"8","d":35.5,"v":30.3},{"l":"8","d":36.0,"v":29.6},{"l":"8","d":36.6,"v":29.6},{"l":"8","d":37.0,"v":26.1},{"l":"8","d":37.5,"v":24.5},{"l":"8","d":37.9,"v":25.1},{"l":"8","d":38.3,"v":22.7},{"l":"8","d":38.7,"v":20.7},{"l":"8","d":39.1,"v":18.6},{"l":"8","d":39.5,"v":16.2},{"l":"8","d":39.9,"v":15.8},{"l":"8","d":40.3,"v":14.2},{"l":"8","d":40.7,"v":10.0},{"l":"8","d":41.1,"v":12.5},{"l":"8","d":41.3,"v":14.2},{"l":"8","d":41.7,"v":9.7},{"l":"8","d":42.3,"v":9.0},{"l":"8","d":42.7,"v":6.3},{"l":"8","d":43.4,"v":7.6},{"l":"8","d":43.8,"v":6.3},{"l":"8","d":44.2,"v":8.0},{"l":"8","d":44.5,"v":0},{"l":"8","d":60.6,"v":0},
{"l":"9","d":-29.6,"v":0.5},{"l":"9","d":-27.7,"v":0.6},{"l":"9","d":-27.4,"v":1.0},{"l":"9","d":-26.3,"v":0.8},{"l":"9","d":-25.9,"v":1.3},{"l":"9","d":-24.7,"v":2.0},{"l":"9","d":-23.0,"v":2.2},{"l":"9","d":-21.4,"v":1.8},{"l":"9","d":-20.5,"v":2.2},{"l":"9","d":-18.9,"v":2.4},{"l":"9","d":-17.7,"v":2.5},{"l":"9","d":-15.6,"v":3.0},{"l":"9","d":-14.0,"v":3.2},{"l":"9","d":-12.4,"v":3.4},{"l":"9","d":-11.1,"v":3.7},{"l":"9","d":-10.3,"v":3.4},{"l":"9","d":-8.7,"v":3.4},{"l":"9","d":-6.6,"v":3.2},{"l":"9","d":-5.8,"v":3.5},{"l":"9","d":-4.2,"v":4.0},{"l":"9","d":-2.5,"v":4.4},{"l":"9","d":-1.3,"v":4.4},{"l":"9","d":-0.9,"v":7.0},{"l":"9","d":-0.5,"v":6.0},{"l":"9","d":-0.1,"v":5.2},{"l":"9","d":0.5,"v":4.2},{"l":"9","d":1.0,"v":1.5},{"l":"9","d":1.4,"v":3.5},{"l":"9","d":1.7,"v":5.2},{"l":"9","d":2.2,"v":3.5},{"l":"9","d":2.8,"v":2.9},{"l":"9","d":3.3,"v":5.2},{"l":"9","d":3.6,"v":7.6},{"l":"9","d":4.1,"v":7.0},{"l":"9","d":4.5,"v":5.2},{"l":"9","d":5.1,"v":7.6},{"l":"9","d":5.3,"v":8.3},{"l":"9","d":5.7,"v":5.2},{"l":"9","d":6.1,"v":6.0},{"l":"9","d":6.7,"v":4.9},{"l":"9","d":7.2,"v":6.3},{"l":"9","d":7.5,"v":6.6},{"l":"9","d":7.9,"v":5.2},{"l":"9","d":8.4,"v":5.6},{"l":"9","d":8.7,"v":3.9},{"l":"9","d":9.0,"v":2.5},{"l":"9","d":9.4,"v":7.0},{"l":"9","d":9.7,"v":8.0},{"l":"9","d":10.2,"v":10.0},{"l":"9","d":10.6,"v":10.4},{"l":"9","d":11.0,"v":9.4},{"l":"9","d":11.4,"v":10.0},{"l":"9","d":11.8,"v":12.1},{"l":"9","d":12.2,"v":12.8},{"l":"9","d":12.7,"v":10.4},{"l":"9","d":13.0,"v":6.6},{"l":"9","d":13.5,"v":10.7},{"l":"9","d":13.9,"v":9.4},{"l":"9","d":14.3,"v":12.1},{"l":"9","d":14.6,"v":11.7},{"l":"9","d":14.9,"v":12.8},{"l":"9","d":15.3,"v":14.5},{"l":"9","d":15.9,"v":13.5},{"l":"9","d":16.5,"v":11.4},{"l":"9","d":17.1,"v":11.7},{"l":"9","d":17.6,"v":8.6},{"l":"9","d":18.2,"v":11.1},{"l":"9","d":18.8,"v":8.0},{"l":"9","d":19.2,"v":11.1},{"l":"9","d":19.8,"v":10.7},{"l":"9","d":20.4,"v":11.1},{"l":"9","d":20.8,"v":6.3},{"l":"9","d":21.3,"v":11.1},{"l":"9","d":21.9,"v":10.7},{"l":"9","d":22.3,"v":8.6},{"l":"9","d":22.9,"v":11.7},{"l":"9","d":23.5,"v":13.2},{"l":"9","d":23.9,"v":16.6},{"l":"9","d":24.5,"v":19.0},{"l":"9","d":24.9,"v":20.4},{"l":"9","d":25.3,"v":17.6},{"l":"9","d":25.9,"v":20.7},{"l":"9","d":26.6,"v":17.3},{"l":"9","d":27.2,"v":17.3},{"l":"9","d":27.6,"v":12.5},{"l":"9","d":28.1,"v":15.2},{"l":"9","d":28.4,"v":10.4},{"l":"9","d":28.8,"v":9.7},{"l":"9","d":29.2,"v":14.2},{"l":"9","d":29.6,"v":12.5},{"l":"9","d":30.0,"v":15.8},{"l":"9","d":30.5,"v":18.3},{"l":"9","d":31.1,"v":19.3},{"l":"9","d":31.7,"v":22.0},{"l":"9","d":32.1,"v":23.8},{"l":"9","d":32.5,"v":21.0},{"l":"9","d":33.0,"v":24.1},{"l":"9","d":33.3,"v":22.0},{"l":"9","d":33.7,"v":20.7},{"l":"9","d":34.2,"v":23.4},{"l":"9","d":34.6,"v":19.3},{"l":"9","d":35.0,"v":24.5},{"l":"9","d":35.4,"v":25.1},{"l":"9","d":35.8,"v":24.0},{"l":"9","d":36.2,"v":23.4},{"l":"9","d":36.4,"v":19.3},{"l":"9","d":36.7,"v":17.6},{"l":"9","d":37.1,"v":16.6},{"l":"9","d":37.5,"v":15.8},{"l":"9","d":38.1,"v":15.2},{"l":"9","d":38.7,"v":15.8},{"l":"9","d":39.3,"v":15.8},{"l":"9","d":39.7,"v":12.5},{"l":"9","d":40.1,"v":9.0},{"l":"9","d":40.5,"v":5.6},{"l":"9","d":40.9,"v":2.2},{"l":"9","d":41.3,"v":0},{"l":"9","d":41.9,"v":0},{"l":"9","d":42.2,"v":3.9},{"l":"9","d":42.6,"v":1.5},{"l":"9","d":43.0,"v":0.5},{"l":"9","d":43.4,"v":2.2},{"l":"9","d":44.1,"v":1.5},{"l":"9","d":44.5,"v":0},{"l":"9","d":60.6,"v":0}
]},
"layer": [
{
"mark": {"type": "line", "strokeWidth": 3.5, "strokeJoin": "miter"},
"encoding": {
"x": {"field": "d", "type": "quantitative", "scale": {"domain": [-30, 64.06], "nice": false, "zero": false},
 "axis": {"orient": "bottom", "values": [-30,-25,-20,-15,-10,-5,0,5,10,15,20,25,30,35,40,45,50,55,60],
  "labelExpr": "datum.value % 10 === 0 ? '' + datum.value : ''",
  "tickSize": {"condition": {"test": "datum.value % 10 === 0", "value": 11}, "value": 5},
  "labelFont": "DejaVu Sans", "labelFontSize": 22, "labelPadding": 4, "labelFlush": false, "labelOverlap": false,
  "title": "Daynumber 1990", "titleFont": "Liberation Sans", "titleFontSize": 35, "titleFontWeight": "normal", "titlePadding": 21}},
"y": {"field": "v", "type": "quantitative", "scale": {"domain": [0, 60], "nice": false, "zero": false},
 "axis": {"orient": "left", "values": [0,2.5,5,7.5,10,12.5,15,17.5,20,22.5,25,27.5,30,32.5,35,37.5,40,42.5,45,47.5,50,52.5,55,57.5,60],
  "labelExpr": "datum.value % 5 === 0 ? '' + datum.value : ''",
  "tickSize": {"condition": {"test": "datum.value % 5 === 0", "value": 12}, "value": 7},
  "labelFont": "DejaVu Sans", "labelFontSize": 22, "labelPadding": 11, "labelOverlap": false, "labelFlush": false,
  "title": "frequency north of 60 N", "titleFont": "Liberation Sans", "titleFontSize": 37, "titleFontWeight": "normal",
  "titleAngle": 270, "titleAlign": "left", "titleBaseline": "alphabetic", "titleX": -66, "titleY": 489}},
"color": {"field": "l", "type": "nominal",
 "scale": {"domain": ["9","8","7","6","5","4","3","2","1"," "], "range": ["#000080","#808000","#ffff00","#ff00ff","#00ffff","#0000ff","#00ff00","#ff0000","#ff8000","rgba(255,255,255,0)"]},
 "legend": {"orient": "none", "legendX": 616, "legendY": 9, "title": ["", "Model levels"], "titleFont": "DejaVu Sans", "titleFontSize": 18, "titleFontWeight": "normal", "titleLineHeight": 22, "titlePadding": 4, "titleColor": "black",
  "labelFont": "DejaVu Sans", "labelFontSize": 18, "labelColor": "black", "labelOffset": 5,
  "symbolType": "stroke", "symbolStrokeWidth": 3.5, "symbolSize": 2116, "clipHeight": 18, "rowPadding": 4.3,
  "padding": 14, "strokeColor": "black", "fillColor": "white"}}
}
},
{
"mark": {"type": "point", "opacity": 0},
"encoding": {
"x": {"field": "d", "type": "quantitative", "axis": {"orient": "top", "values": [-30,-25,-20,-15,-10,-5,0,5,10,15,20,25,30,35,40,45,50,55,60], "labels": false, "title": null,
  "tickSize": {"condition": {"test": "datum.value % 10 === 0", "value": -12}, "value": -6}}},
"y": {"field": "v", "type": "quantitative", "axis": {"orient": "right", "values": [0,2.5,5,7.5,10,12.5,15,17.5,20,22.5,25,27.5,30,32.5,35,37.5,40,42.5,45,47.5,50,52.5,55,57.5,60], "labels": false, "title": null, "offset": 9,
  "tickSize": {"condition": {"test": "datum.value % 5 === 0", "value": -12}, "value": -7}}}
}
},
{
"mark": {"type": "point", "opacity": 0},
"encoding": {
"x": {"field": "d", "type": "quantitative", "axis": null},
"y": {"field": "v", "type": "quantitative", "axis": {"orient": "left", "domain": false, "ticks": false, "labels": false,
  "title": "T", "titleFont": "Liberation Sans", "titleFontSize": 37, "titleFontWeight": "normal",
  "titleAngle": 270, "titleAlign": "left", "titleBaseline": "alphabetic", "titleX": -66, "titleY": 572}}
}
},
{
"mark": {"type": "point", "opacity": 0},
"encoding": {
"x": {"field": "d", "type": "quantitative", "axis": null},
"y": {"field": "v", "type": "quantitative", "axis": {"orient": "left", "domain": false, "ticks": false, "labels": false,
  "title": "NAT", "titleFont": "Liberation Sans", "titleFontSize": 22, "titleFontWeight": "normal",
  "titleAngle": 270, "titleAlign": "left", "titleBaseline": "alphabetic", "titleX": -57, "titleY": 539}}
}
}
],
"resolve": {"axis": {"x": "independent", "y": "independent"}}
}
